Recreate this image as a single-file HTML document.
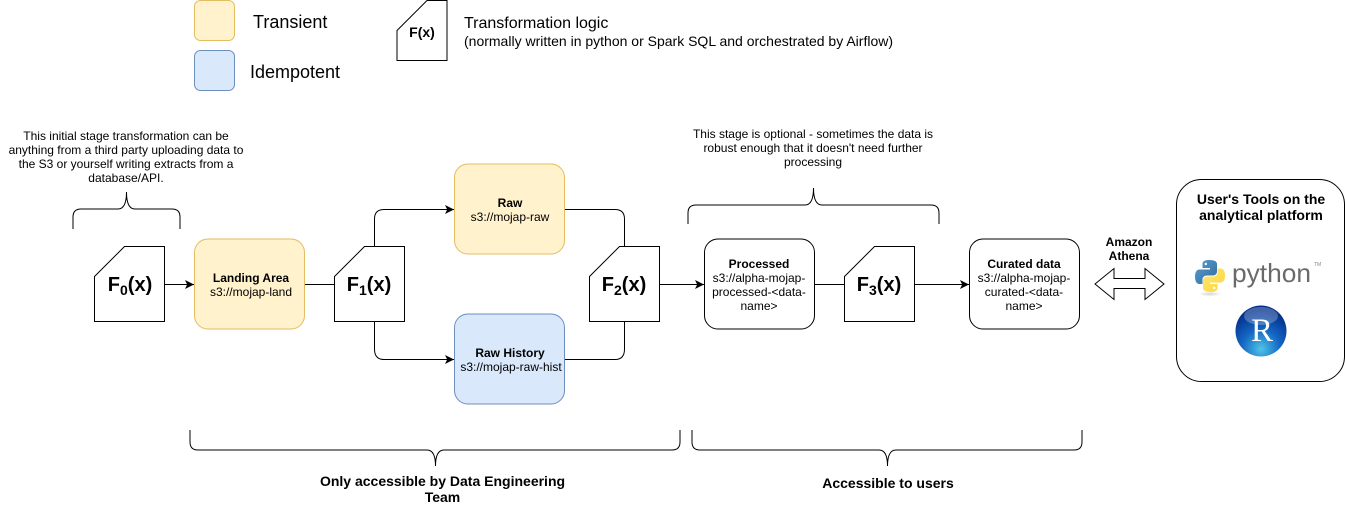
<!DOCTYPE html>
<html><head><meta charset="utf-8"><style>
html,body{margin:0;padding:0;background:#fff;width:1345px;height:507px;overflow:hidden}
svg{display:block}
text{font-family:"Liberation Sans",Arial,sans-serif;fill:#000}
.m{text-anchor:middle}
.b{font-weight:bold}
.s12{font-size:12px}
.f{font-size:20px;font-weight:bold;text-anchor:middle}
.sub{font-size:14px}
.l{fill:none;stroke:#000;stroke-width:1}
.br{fill:none;stroke:#000;stroke-width:1}
.y{fill:#fff2cc;stroke:#e3bd5f;stroke-width:1}
.bl{fill:#dae8fc;stroke:#6c8ebf;stroke-width:1}
.w{fill:#fff;stroke:#000;stroke-width:1}
</style></head><body>
<svg width="1345" height="507" viewBox="0 0 1345 507" xmlns="http://www.w3.org/2000/svg">
<defs>
<radialGradient id="rg" cx="50%" cy="85%" r="75%"><stop offset="0" stop-color="#4fc3e8"/><stop offset=".5" stop-color="#1467c4"/><stop offset="1" stop-color="#04308c"/></radialGradient>
<linearGradient id="pb" x1="0" y1="0" x2="1" y2="1"><stop offset="0" stop-color="#5a9fd4"/><stop offset="1" stop-color="#306998"/></linearGradient>
<linearGradient id="py" x1="0" y1="0" x2="1" y2="1"><stop offset="0" stop-color="#ffe873"/><stop offset="1" stop-color="#ffd43b"/></linearGradient>
<radialGradient id="sh"><stop offset="0" stop-color="#aaa" stop-opacity=".5"/><stop offset="1" stop-color="#aaa" stop-opacity="0"/></radialGradient>
<marker id="a" markerWidth="10" markerHeight="9" refX="9" refY="4.500" orient="auto" markerUnits="userSpaceOnUse"><path d="M0 0L9 4.500L0 9L2.200 4.500Z" fill="#000"/></marker>
</defs>

<!-- legend -->
<rect class="y" x="194.500" y="0.500" width="40" height="40" rx="6"/>
<rect class="bl" x="194.500" y="50.500" width="40" height="40" rx="6"/>
<text x="253" y="28" font-size="18">Transient</text>
<text x="250" y="78" font-size="18">Idempotent</text>
<path class="w" d="M397 30.500L427 0.500H447V60.500H397Z"/>
<text x="422" y="37" class="m b" font-size="14">F(x)</text>
<text x="464" y="28" font-size="16">Transformation logic</text>
<text x="464" y="46" font-size="14">(normally written in python or Spark SQL and orchestrated by Airflow)</text>

<!-- annotations -->
<g class="s12">
<text class="m" x="126" y="140">This initial stage transformation can be</text>
<text class="m" x="126" y="154">anything from a third party uploading data to</text>
<text class="m" x="126" y="168">the S3 or yourself writing extracts from a</text>
<text class="m" x="126" y="182">database/API.</text>
<text class="m" x="813" y="138">This stage is optional - sometimes the data is</text>
<text class="m" x="813" y="152">robust enough that it doesn't need further</text>
<text class="m" x="813" y="166">processing</text>
</g>

<!-- braces -->
<path class="br" d="M73 229V217Q73 209 81 209H118Q126.500 209 126.500 192Q126.500 209 135 209H172Q180 209 180 217V229"/>
<path class="br" d="M688 224V213Q688 205 696 205H805Q813.500 205 813.500 188Q813.500 205 822 205H931Q939 205 939 213V224"/>
<path class="br" d="M190 430V442Q190 450 198 450H427Q435.500 450 435.500 466Q435.500 450 444 450H672Q680 450 680 442V430"/>
<path class="br" d="M692 430V442Q692 450 700 450H879Q887.500 450 887.500 466Q887.500 450 896 450H1074Q1082 450 1082 442V430"/>

<!-- connectors -->
<path class="l" d="M164.500 284.500H194" marker-end="url(#a)"/>
<path class="l" d="M304.500 284.500H334.500"/>
<path class="l" d="M374.500 246.500V219Q374.500 209.500 384 209.500H454" marker-end="url(#a)"/>
<path class="l" d="M374.500 321.500V349Q374.500 359.500 384 359.500H454" marker-end="url(#a)"/>
<path class="l" d="M564.500 209.500H615Q624.500 209.500 624.500 219V246.500"/>
<path class="l" d="M564.500 359.500H615Q624.500 359.500 624.500 349V321.500"/>
<path class="l" d="M659.500 284.500H704" marker-end="url(#a)"/>
<path class="l" d="M814.500 284.500H844.500"/>
<path class="l" d="M914.500 284.500H969" marker-end="url(#a)"/>

<!-- F shapes -->
<path class="w" d="M94.500 276.500L124.500 246.500H164.500V321.500H94.500Z"/>
<path class="w" d="M334.500 276.500L364.500 246.500H404.500V321.500H334.500Z"/>
<path class="w" d="M589.500 276.500L619.500 246.500H659.500V321.500H589.500Z"/>
<path class="w" d="M844.500 276.500L874.500 246.500H914.500V321.500H844.500Z"/>
<text class="f" x="130" y="291">F<tspan class="sub" dy="4">0</tspan><tspan dy="-4">(x)</tspan></text>
<text class="f" x="369" y="291">F<tspan class="sub" dy="4">1</tspan><tspan dy="-4">(x)</tspan></text>
<text class="f" x="624" y="291">F<tspan class="sub" dy="4">2</tspan><tspan dy="-4">(x)</tspan></text>
<text class="f" x="879" y="291">F<tspan class="sub" dy="4">3</tspan><tspan dy="-4">(x)</tspan></text>

<!-- nodes -->
<rect class="y" x="194.500" y="239" width="110" height="90" rx="13.500"/>
<rect class="y" x="454.500" y="164" width="110" height="90" rx="13.500"/>
<rect class="bl" x="454.500" y="314" width="110" height="90" rx="13.500"/>
<rect class="w" x="704.500" y="239" width="110" height="90" rx="13.500"/>
<rect class="w" x="969.500" y="239" width="110" height="90" rx="13.500"/>
<g class="s12">
<text class="m b" x="251" y="282">Landing Area</text>
<text class="m" x="251" y="296">s3://mojap-land</text>
<text class="m b" x="510" y="207">Raw</text>
<text class="m" x="510" y="221">s3://mojap-raw</text>
<text class="m b" x="510" y="357">Raw History</text>
<text class="m" x="511" y="371">s3://mojap-raw-hist</text>
<text class="m b" x="759" y="268">Processed</text>
<text class="m" x="759" y="282">s3://alpha-mojap-</text>
<text class="m" x="759" y="296">processed-&lt;data-</text>
<text class="m" x="759" y="310">name&gt;</text>
<text class="m b" x="1024" y="268">Curated data</text>
<text class="m" x="1024" y="282">s3://alpha-mojap-</text>
<text class="m" x="1024" y="296">curated-&lt;data-</text>
<text class="m" x="1024" y="310">name&gt;</text>
<text class="m b" x="1129" y="246">Amazon</text>
<text class="m b" x="1129" y="260">Athena</text>
</g>

<!-- double arrow -->
<path class="w" d="M1095 284L1114 268.500V278.500H1145V268.500L1164 284L1145 299.500V288.500H1114V299.500Z"/>

<!-- tools box -->
<rect class="w" x="1176.500" y="179.500" width="168" height="202" rx="25"/>
<text class="m b" x="1261" y="204" font-size="14">User's Tools on the</text>
<text class="m b" x="1261" y="220" font-size="14">analytical platform</text>

<!-- python logo -->
<ellipse cx="1210" cy="294" rx="12" ry="2.500" fill="url(#sh)"/>
<path fill="url(#pb)" d="M1209.500 260C1203 260 1202.500 262.500 1202.500 264V268H1210V269.500H1199.500C1196.500 269.500 1195 272.500 1195 276.500C1195 281 1196.500 284 1199.500 284H1202.500V279.500C1202.500 277 1204.500 275.500 1207 275.500H1213C1215.500 275.500 1217 273.500 1217 271.500V264C1217 261.500 1214.500 260 1209.500 260Z"/>
<path fill="url(#py)" d="M1210.500 292C1217 292 1217.500 289.500 1217.500 288V284H1210V282.500H1220.500C1223.500 282.500 1225 279.500 1225 275.500C1225 271 1223.500 268.500 1220.500 268.500H1217.500V272.500C1217.500 275 1215.500 276.500 1213 276.500H1207C1204.500 276.500 1203 278.500 1203 280.500V288C1203 290.500 1205.500 292 1210.500 292Z"/>
<circle cx="1205.800" cy="264" r="1.200" fill="#fff"/>
<circle cx="1214.200" cy="288" r="1.200" fill="#fff"/>
<text x="1232" y="282" font-size="26" textLength="79" lengthAdjust="spacingAndGlyphs" style="fill:#6a6a6a">python</text>
<text x="1314" y="266" font-size="5" style="fill:#888">TM</text>

<!-- R logo -->
<circle cx="1261" cy="331" r="25.500" fill="url(#rg)"/>
<ellipse cx="1261" cy="316" rx="17" ry="9" fill="#fff" opacity=".25"/>
<text class="m" x="1262" y="341" font-size="33" style="font-family:'Liberation Serif',serif;fill:#fff">R</text>

<!-- bottom labels -->
<text class="m b" x="442.500" y="486" font-size="14">Only accessible by Data Engineering</text>
<text class="m b" x="442.500" y="502" font-size="14">Team</text>
<text class="m b" x="888" y="488" font-size="14">Accessible to users</text>
</svg>
</body></html>
